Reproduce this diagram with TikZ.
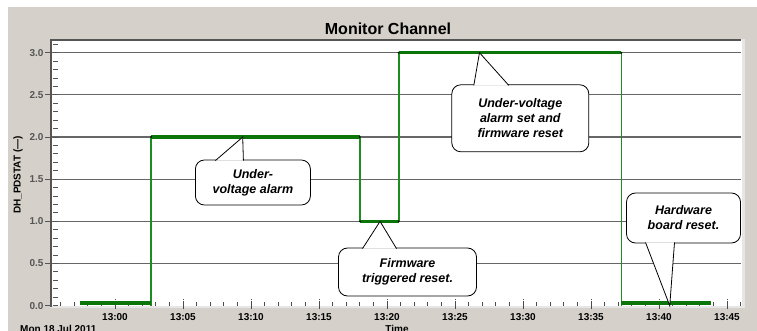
\documentclass[tikz,border=0pt]{standalone}
\usepackage{fontspec}
\setmainfont{Liberation Sans}
\usetikzlibrary{calc}

\definecolor{panelgray}{HTML}{D5D1CA}
\definecolor{stripgray}{HTML}{E6E6E6}
\definecolor{gridgray}{HTML}{666666}
\definecolor{axisgray}{HTML}{555555}
\definecolor{tracegreen}{HTML}{1E8C1E}
\definecolor{levelgreen}{HTML}{0A760A}

\tikzset{
  callbox/.style={draw, fill=white, rounded corners=9pt, align=center, inner sep=0pt, outer sep=0pt,
    line width=0.8pt, font=\bfseries\itshape\fontsize{12.5}{15}\selectfont},
  pointer/.style={fill=white, draw, line width=0.8pt, line join=miter},
  ticklabel/.style={font=\bfseries\fontsize{10}{12}\selectfont, inner sep=1pt},
  gridline/.style={gridgray, line width=1.1pt},
  riseline/.style={tracegreen, line width=1.6pt},
  levelline/.style={levelgreen, line width=3.5pt}
}

\begin{document}
\begin{tikzpicture}[x=1pt, y=-1pt]
\useasboundingbox (0,0) rectangle (757,331);
% panel and plot area
\fill[panelgray] (8,7) rectangle (757,331);
\fill[stripgray] (50,39) rectangle (745,308);
\fill[white] (50,40) rectangle (741.5,305.5);
\node[font=\bfseries\fontsize{16}{18}\selectfont] (title) at (388,29) {Monitor Channel};
\node[rotate=90, font=\bfseries\fontsize{10}{12}\selectfont] (ylabel) at (18,175) {DH\_PDSTAT (---)};
\node[anchor=base west, ticklabel] (date) at (19,332) {Mon 18 Jul 2011};
\node[anchor=base, ticklabel] (xlabel) at (397,332) {Time};

% data coordinates: minutes after 13:00, value
\begin{scope}[shift={(115,305.7)}, x=13.6pt, y=84.33pt]
  \foreach \v in {0.5,1.0,1.5,2.0,2.5,3.0}
    \draw[gridline] (-4.78,\v) -- (46.03,\v);
  \foreach \v in {0.0,0.5,1.0,1.5,2.0,2.5,3.0}
    \draw[axisgray, line width=1pt] (-4.78,\v) -- ++(-5pt,0)
      node[left, ticklabel] {\v};
  \foreach \k in {0,...,31}
    \draw[axisgray, line width=1pt] (-4.55,{\k/10}) -- ++(4.5pt,0);
  \foreach \m in {-4,...,46}
    \draw[black!70, line width=0.8pt] (\m,0) -- ++(0,3.5pt);
  \foreach \m in {0,5,...,45} {
    \draw[black!70, line width=0.8pt, dash pattern=on 3pt off 1.5pt] (\m,-3pt) -- ++(0,10pt);
    \node[ticklabel] (t\m) at ([yshift=-11.5pt]\m,0) {13:\ifnum\m<10 0\fi\m};
  }
  % left axis and top border
  \draw[axisgray, line width=2.6pt] (-4.72,-0.01) -- (-4.72,3.152);
  \draw[axisgray, line width=2pt] (-4.78,3.15) -- (46.03,3.15);

  % trace
  \draw[riseline] (2.65,0) -- (2.65,2);
  \draw[riseline] (18.01,2) -- (18.01,1);
  \draw[riseline] (20.86,1) -- (20.86,3);
  \draw[riseline] (37.23,3) -- (37.23,0);
  \draw[levelline] (-2.57,0.03) -- (2.65,0.03);
  \draw[levelline] (2.65,2) -- (18.01,2);
  \draw[levelline] (18.01,1) -- (20.86,1);
  \draw[levelline] (20.86,3) -- (37.23,3);
  \draw[levelline] (37.23,0.03) -- (43.82,0.03);
  \foreach \p in {(2.65,2),(18.01,2),(18.01,1),(20.86,1),(20.86,3),(37.23,3)}
    \fill \p circle (1pt);

  \coordinate (uvatip) at (9.39,2);
  \coordinate (fwtip) at (19.49,1);
  \coordinate (uvstip) at (26.8,3);
  \coordinate (hwtip) at (40.79,0);
\end{scope}

% callouts
\node[callbox, minimum width=115pt, minimum height=45pt] (uva) at (252.9,182.5) {Under-\\voltage alarm};
\filldraw[pointer] ($(uva.north west)+(20,0.6)$) -- (uvatip) -- ($(uva.north west)+(48,0.6)$);

\node[callbox, minimum width=137pt, minimum height=67pt] (uvs) at (520.3,118.3) {Under-voltage\\alarm set and\\firmware reset};
\filldraw[pointer] ($(uvs.north west)+(22,0.6)$) -- (uvstip) -- ($(uvs.north west)+(57,0.6)$);

\node[callbox, minimum width=138pt, minimum height=48pt] (fw) at (407.5,272) {Firmware\\triggered reset.};
\filldraw[pointer] ($(fw.north west)+(24,0.6)$) -- (fwtip) -- ($(fw.north west)+(58,0.6)$);

\node[callbox, minimum width=114pt, minimum height=50pt] (hw) at (683.5,218) {Hardware\\board reset.};
\filldraw[pointer] ($(hw.south west)+(19,-0.6)$) -- (hwtip) -- ($(hw.south west)+(48,-0.6)$);
\end{tikzpicture}
\end{document}
